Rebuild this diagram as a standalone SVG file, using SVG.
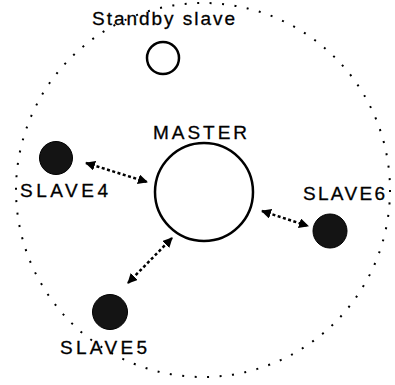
<svg xmlns="http://www.w3.org/2000/svg" width="395" height="385" viewBox="0 0 395 385">
<defs>
<marker id="ah" viewBox="0 0 10 10" refX="9" refY="5" markerWidth="4" markerHeight="4" orient="auto-start-reverse" markerUnits="strokeWidth">
<path d="M0,0 L10,5 L0,10 z" fill="#000"/>
</marker>
<style>
text{font-family:"Liberation Sans",Arial,sans-serif;font-size:19px;fill:#000;stroke:#000;stroke-width:0.3}
.slave{fill:#141414;stroke:#000;stroke-width:1}
.link{stroke:#000;stroke-width:2.5;stroke-dasharray:3 2.5;fill:none;marker-start:url(#ah);marker-end:url(#ah)}
</style>
</defs>
<rect width="395" height="385" fill="#fff"/>
<g id="boundary">
<circle cx="203" cy="190" r="187" fill="none" stroke="#000" stroke-width="2" stroke-dasharray="2 10.5"/>
</g>
<g id="standby">
<text x="92" y="25" textLength="143" lengthAdjust="spacing">Standby slave</text>
<circle cx="163" cy="58" r="16" fill="#fff" stroke="#000" stroke-width="2.5"/>
</g>
<g id="master">
<text x="153" y="139" textLength="94" lengthAdjust="spacing">MASTER</text>
<circle cx="204" cy="192" r="49" fill="#fff" stroke="#000" stroke-width="2.5"/>
</g>
<g id="slave4">
<circle class="slave" cx="56" cy="158" r="16.5"/>
<text x="20" y="197" textLength="88" lengthAdjust="spacing">SLAVE4</text>
</g>
<g id="slave6">
<text x="303" y="200" textLength="82" lengthAdjust="spacing">SLAVE6</text>
<circle class="slave" cx="330" cy="231" r="17"/>
</g>
<g id="slave5">
<circle class="slave" cx="110" cy="312" r="17.5"/>
<text x="60" y="354" textLength="87" lengthAdjust="spacing">SLAVE5</text>
</g>
<g id="connectors">
<line class="link" x1="86" y1="163" x2="147" y2="182"/>
<line class="link" x1="262" y1="211" x2="308" y2="226"/>
<line class="link" x1="128" y1="283" x2="172" y2="238"/>
</g>
</svg>
